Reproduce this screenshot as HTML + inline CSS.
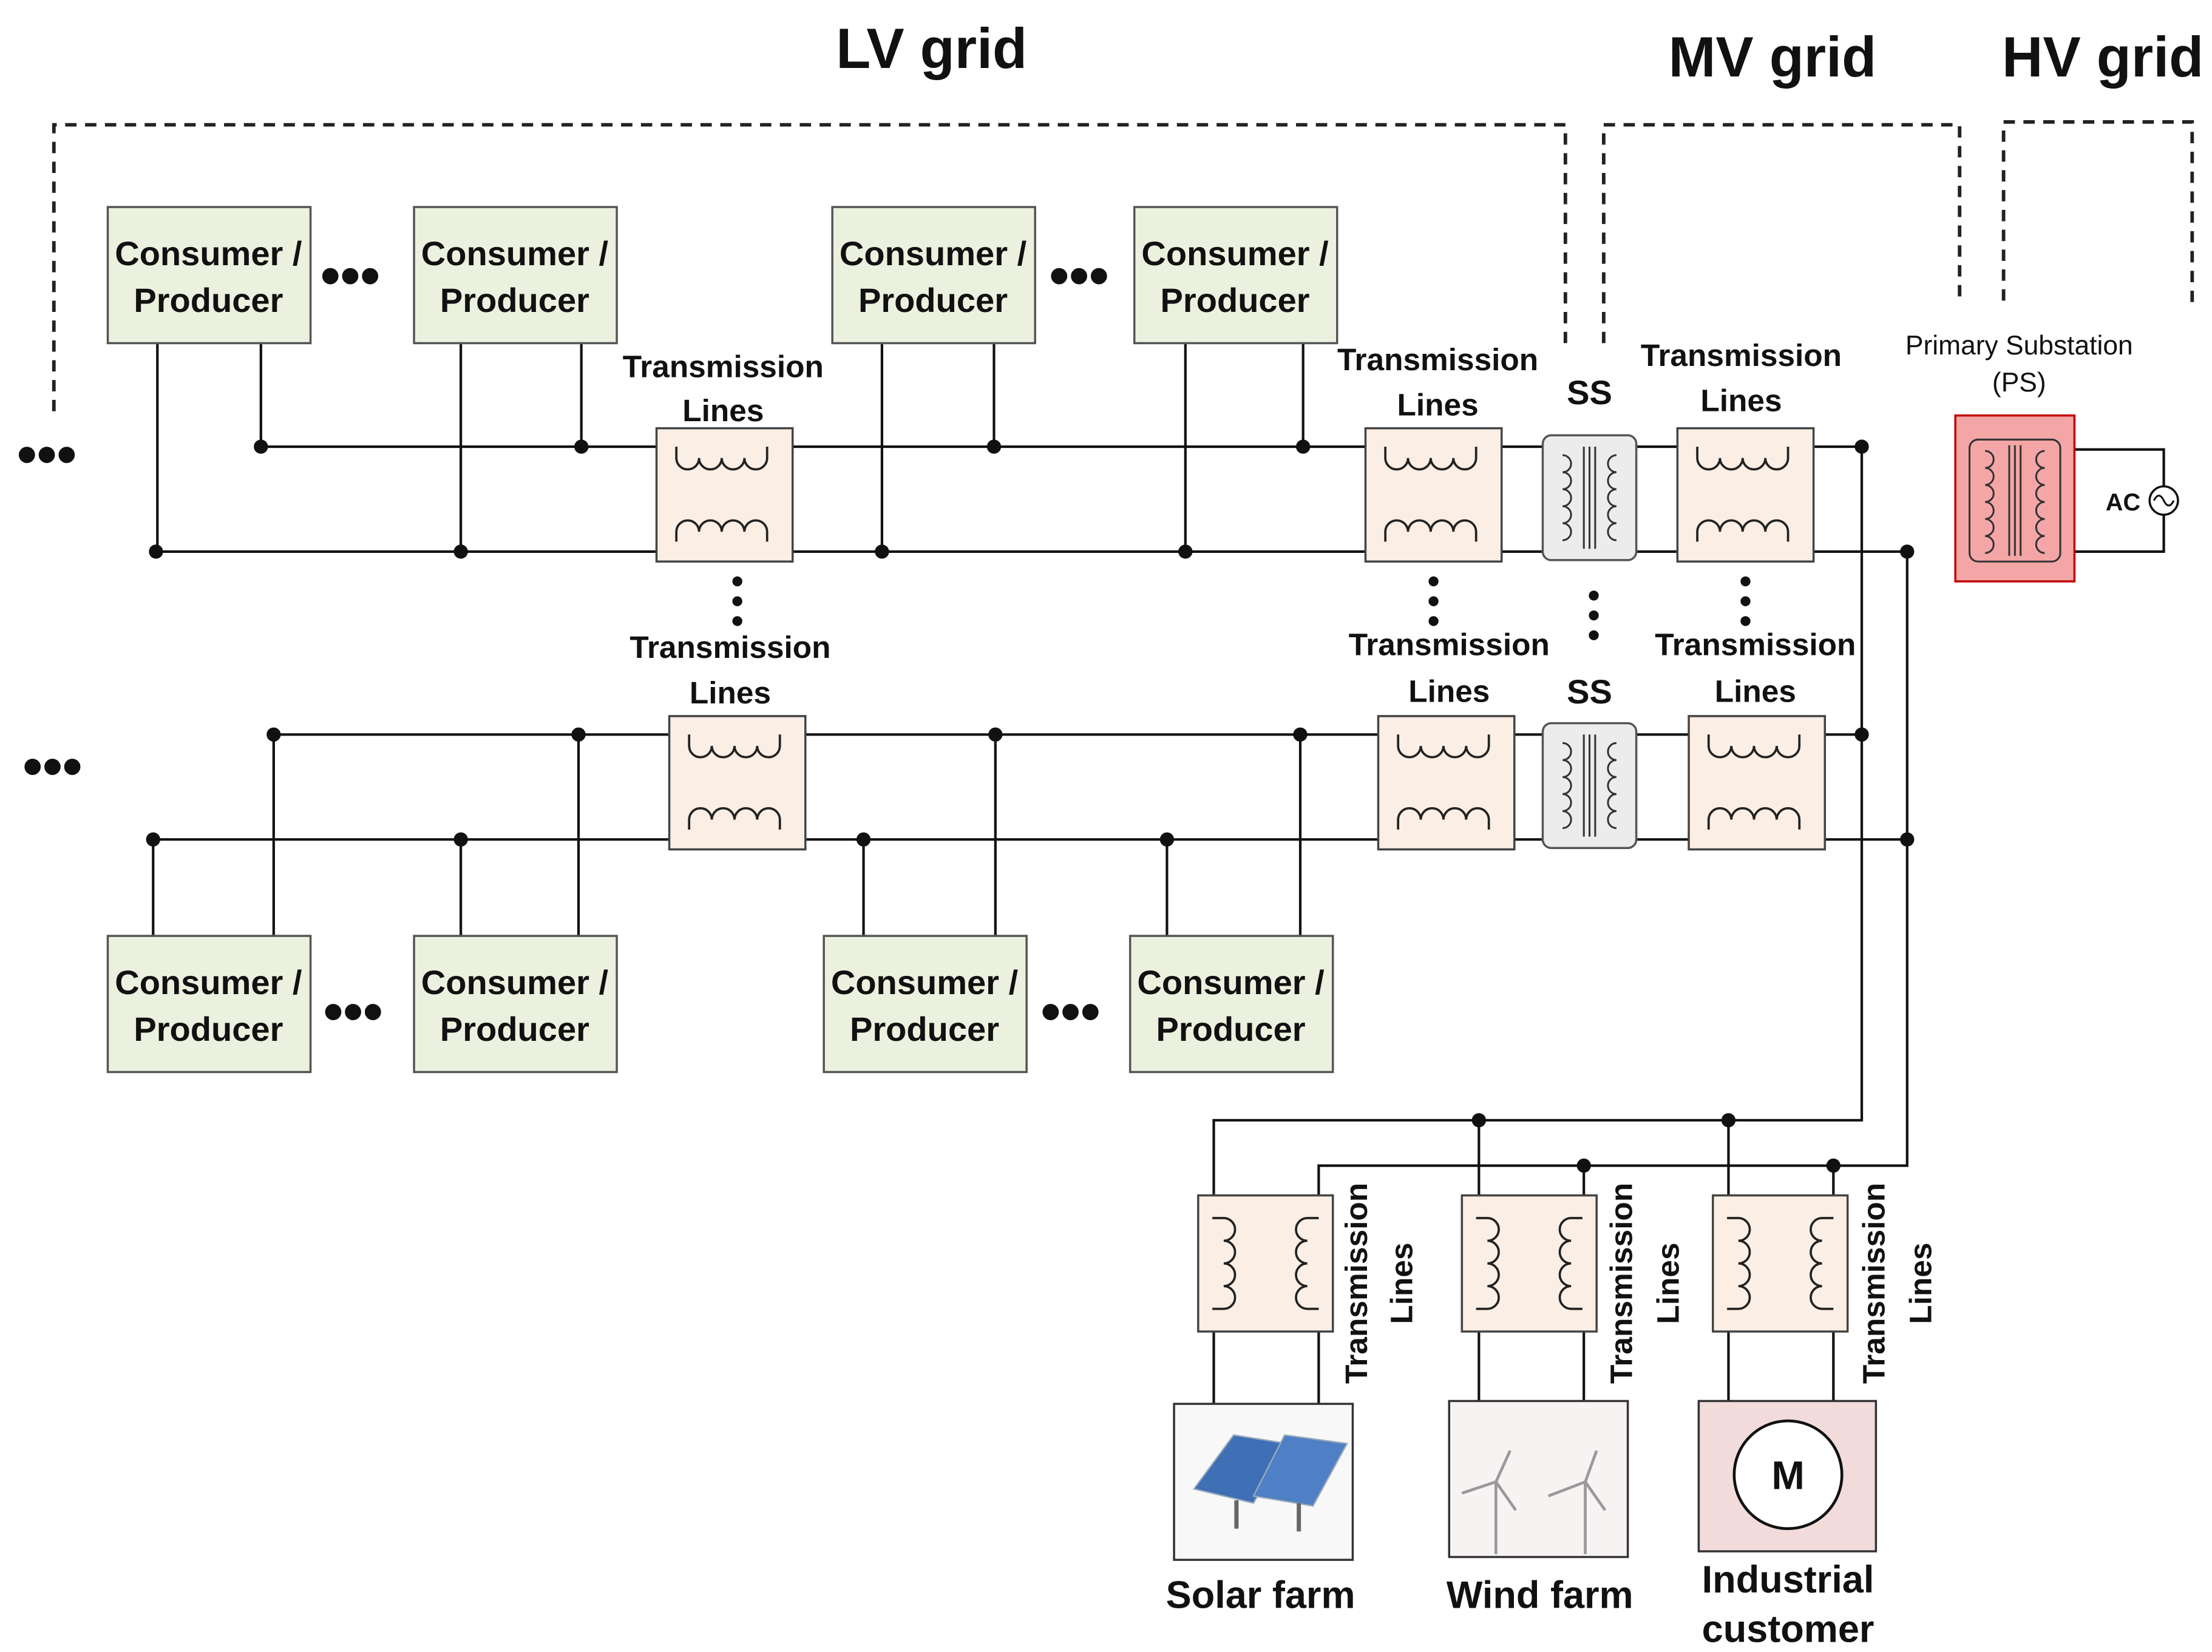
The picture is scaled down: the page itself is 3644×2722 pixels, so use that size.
<!DOCTYPE html>
<html><head><meta charset="utf-8"><style>
html,body{margin:0;padding:0;background:#fff;}
svg{display:block;}
text{font-family:"Liberation Sans",sans-serif;fill:#111;}
</style></head><body>
<svg width="3644" height="2722" viewBox="0 0 1560 1165" preserveAspectRatio="none" xmlns="http://www.w3.org/2000/svg">
<defs>
<g id="xh">
 <rect x="0" y="0" width="96" height="94" fill="#fbeee4" stroke="#444" stroke-width="1.5"/>
 <path d="M14 13 v8 M14 21 a8 8 0 0 0 16 0 a8 8 0 0 0 16 0 a8 8 0 0 0 16 0 a8 8 0 0 0 16 0 M78 21 v-8" fill="none" stroke="#222" stroke-width="1.6"/>
 <path d="M14 80 v-7 M14 73 a8 8 0 0 1 16 0 a8 8 0 0 1 16 0 a8 8 0 0 1 16 0 a8 8 0 0 1 16 0 M78 73 v7" fill="none" stroke="#222" stroke-width="1.6"/>
</g>
<g id="xv">
 <rect x="0" y="0" width="95" height="96" fill="#fbeee4" stroke="#444" stroke-width="1.5"/>
 <path d="M10 16 h8 M18 16 a8 8 0 0 1 0 16 a8 8 0 0 1 0 16 a8 8 0 0 1 0 16 a8 8 0 0 1 0 16 M18 80 h-8" fill="none" stroke="#222" stroke-width="1.6"/>
 <path d="M85 16 h-8 M77 16 a8 8 0 0 0 0 16 a8 8 0 0 0 0 16 a8 8 0 0 0 0 16 a8 8 0 0 0 0 16 M77 80 h8" fill="none" stroke="#222" stroke-width="1.6"/>
</g>
<g id="ss">
 <rect x="0" y="0" width="66" height="88" rx="6" fill="#ececec" stroke="#555" stroke-width="1.5"/>
 <path d="M14 14 a6 6 0 0 1 0 12 a6 6 0 0 1 0 12 a6 6 0 0 1 0 12 a6 6 0 0 1 0 12 a6 6 0 0 1 0 12" fill="none" stroke="#333" stroke-width="1.3"/>
 <path d="M52 14 a6 6 0 0 0 0 12 a6 6 0 0 0 0 12 a6 6 0 0 0 0 12 a6 6 0 0 0 0 12 a6 6 0 0 0 0 12" fill="none" stroke="#333" stroke-width="1.3"/>
 <path d="M29 8 v72 M33 8 v72 M37 8 v72" stroke="#333" stroke-width="1.3"/>
</g>
<g id="cp">
 <rect x="0" y="0" width="143" height="96" fill="#ebf1de" stroke="#555" stroke-width="1.5"/>
 <text x="71" y="41" font-size="24" text-anchor="middle" font-weight="bold">Consumer /</text>
 <text x="71" y="74" font-size="24" text-anchor="middle" font-weight="bold">Producer</text>
</g>
</defs>
<rect width="1560" height="1165" fill="#fff"/>
<!-- titles -->
<text x="657" y="48" font-size="40" font-weight="bold" text-anchor="middle">LV grid</text>
<text x="1250" y="54" font-size="40" font-weight="bold" text-anchor="middle">MV grid</text>
<text x="1483" y="54" font-size="40" font-weight="bold" text-anchor="middle">HV grid</text>
<!-- dashed -->
<g fill="none" stroke="#222" stroke-width="2.5" stroke-dasharray="8 6">
<path d="M38 290 V88 H1104 V242"/>
<path d="M1131 242 V88 H1382 V212"/>
<path d="M1413 212 V86 H1546 V214"/>
</g>
<!-- wires -->
<g fill="none" stroke="#111" stroke-width="1.8">
<path d="M184 315 H1313 M110 389 H1345"/>
<path d="M193 518 H1313 M108 592 H1345"/>
<path d="M111 242 V389 M184 242 V315 M325 242 V389 M410 242 V315 M622 242 V389 M701 242 V315 M836 242 V389 M919 242 V315"/>
<path d="M108 592 V660 M193 518 V660 M325 592 V660 M408 518 V660 M609 592 V660 M702 518 V660 M823 592 V660 M917 518 V660"/>
<path d="M1313 315 V790 H856 V843 M1345 389 V822 H930 V843"/>
<path d="M1043 790 V843 M1219 790 V843 M1117 822 V843 M1293 822 V843"/>
<path d="M856 939 V990 M930 939 V990 M1043 939 V988 M1117 939 V988 M1219 939 V988 M1293 939 V988"/>
<path d="M1463 317 H1526 V389 H1463"/>
</g>
<!-- junction dots -->
<g fill="#111">
<circle cx="184" cy="315" r="5"/><circle cx="410" cy="315" r="5"/><circle cx="701" cy="315" r="5"/><circle cx="919" cy="315" r="5"/><circle cx="1313" cy="315" r="5"/>
<circle cx="110" cy="389" r="5"/><circle cx="325" cy="389" r="5"/><circle cx="622" cy="389" r="5"/><circle cx="836" cy="389" r="5"/><circle cx="1345" cy="389" r="5"/>
<circle cx="193" cy="518" r="5"/><circle cx="408" cy="518" r="5"/><circle cx="702" cy="518" r="5"/><circle cx="917" cy="518" r="5"/><circle cx="1313" cy="518" r="5"/>
<circle cx="108" cy="592" r="5"/><circle cx="325" cy="592" r="5"/><circle cx="609" cy="592" r="5"/><circle cx="823" cy="592" r="5"/><circle cx="1345" cy="592" r="5"/>
<circle cx="1043" cy="790" r="5"/><circle cx="1219" cy="790" r="5"/><circle cx="1117" cy="822" r="5"/><circle cx="1293" cy="822" r="5"/>
</g>
<!-- boxes -->
<use href="#cp" x="76" y="146"/><use href="#cp" x="292" y="146"/><use href="#cp" x="587" y="146"/><use href="#cp" x="800" y="146"/>
<use href="#cp" x="76" y="660"/><use href="#cp" x="292" y="660"/><use href="#cp" x="581" y="660"/><use href="#cp" x="797" y="660"/>
<g font-size="40" font-weight="bold">
<text x="226" y="208">•••</text><text x="740" y="208">•••</text>
<text x="12" y="334">•••</text><text x="16" y="554">•••</text>
<text x="228" y="727">•••</text><text x="734" y="727">•••</text>
</g>
<!-- transformers -->
<use href="#xh" x="463" y="302"/><use href="#xh" x="963" y="302"/><use href="#xh" x="1183" y="302"/>
<use href="#xh" x="472" y="505"/><use href="#xh" x="972" y="505"/><use href="#xh" x="1191" y="505"/>
<use href="#ss" x="1088" y="307"/><use href="#ss" x="1088" y="510"/>
<use href="#xv" x="845" y="843"/><use href="#xv" x="1031" y="843"/><use href="#xv" x="1208" y="843"/>
<!-- vertical dots -->
<g fill="#111">
<circle cx="520" cy="410" r="3.5"/><circle cx="520" cy="424" r="3.5"/><circle cx="520" cy="438" r="3.5"/>
<circle cx="1011" cy="410" r="3.5"/><circle cx="1011" cy="424" r="3.5"/><circle cx="1011" cy="438" r="3.5"/>
<circle cx="1124" cy="420" r="3.5"/><circle cx="1124" cy="434" r="3.5"/><circle cx="1124" cy="448" r="3.5"/>
<circle cx="1231" cy="410" r="3.5"/><circle cx="1231" cy="424" r="3.5"/><circle cx="1231" cy="438" r="3.5"/>
</g>
<!-- PS -->
<rect x="1379" y="293" width="84" height="117" fill="#f4a6a6" stroke="#c00000" stroke-width="1.5"/>
<rect x="1389" y="310" width="64" height="86" rx="6" fill="none" stroke="#333" stroke-width="1.3"/>
<path d="M1400 318 a6 6 0 0 1 0 12 a6 6 0 0 1 0 12 a6 6 0 0 1 0 12 a6 6 0 0 1 0 12 a6 6 0 0 1 0 12 a6 6 0 0 1 0 12 M1442 318 a6 6 0 0 0 0 12 a6 6 0 0 0 0 12 a6 6 0 0 0 0 12 a6 6 0 0 0 0 12 a6 6 0 0 0 0 12 a6 6 0 0 0 0 12 M1417 314 v78 M1421 314 v78 M1425 314 v78" fill="none" stroke="#333" stroke-width="1.3"/>
<circle cx="1526" cy="353" r="10" fill="#fff" stroke="#111" stroke-width="1.5"/>
<path d="M1519 353 q3.5 -7 7 0 q3.5 7 7 0" fill="none" stroke="#111" stroke-width="1.3"/>
<text x="1485" y="360" font-size="17" font-weight="bold">AC</text>
<!-- labels -->
<g font-size="22" font-weight="bold" text-anchor="middle">
<text x="510" y="266">Transmission</text><text x="510" y="297">Lines</text>
<text x="1014" y="261">Transmission</text><text x="1014" y="293">Lines</text>
<text x="1228" y="258">Transmission</text><text x="1228" y="290">Lines</text>
<text x="515" y="464">Transmission</text><text x="515" y="496">Lines</text>
<text x="1022" y="462">Transmission</text><text x="1022" y="495">Lines</text>
<text x="1238" y="462">Transmission</text><text x="1238" y="495">Lines</text>
<text x="1121" y="285" font-size="24">SS</text><text x="1121" y="496" font-size="24">SS</text>
</g>
<g font-size="19" text-anchor="middle">
<text x="1424" y="250">Primary Substation</text><text x="1424" y="276">(PS)</text>
</g>
<g font-size="22" font-weight="bold" text-anchor="middle">
<text transform="translate(964,905) rotate(-90)">Transmission</text>
<text transform="translate(996,905) rotate(-90)">Lines</text>
<text transform="translate(1151,905) rotate(-90)">Transmission</text>
<text transform="translate(1184,905) rotate(-90)">Lines</text>
<text transform="translate(1329,905) rotate(-90)">Transmission</text>
<text transform="translate(1362,905) rotate(-90)">Lines</text>
</g>
<!-- sources -->
<rect x="828" y="990" width="126" height="110" fill="#f8f8f8" stroke="#333" stroke-width="1.5"/>
<g>
<polygon points="842,1050 870,1012 908,1018 884,1060" fill="#3f6fb5" stroke="#9ab" stroke-width="1"/>
<polygon points="884,1055 906,1012 950,1018 926,1062" fill="#4f7fc5" stroke="#9ab" stroke-width="1"/>
<path d="M872 1058 V1078 M916 1060 V1080" stroke="#666" stroke-width="3"/>
</g>
<rect x="1022" y="988" width="126" height="110" fill="#f7f3f3" stroke="#333" stroke-width="1.5"/>
<g stroke="#999" stroke-width="2" fill="none">
<path d="M1055 1045 V1096 M1055 1045 l-24 8 M1055 1045 l10 -22 M1055 1045 l14 20"/>
<path d="M1118 1045 V1096 M1118 1045 l-26 10 M1118 1045 l8 -22 M1118 1045 l14 20"/>
</g>
<rect x="1198" y="988" width="125" height="106" fill="#f2dcdb" stroke="#333" stroke-width="1.5"/>
<circle cx="1261" cy="1040" r="38" fill="#fff" stroke="#111" stroke-width="2"/>
<text x="1261" y="1050" font-size="28" font-weight="bold" text-anchor="middle">M</text>
<g font-size="27" font-weight="bold" text-anchor="middle">
<text x="889" y="1134">Solar farm</text>
<text x="1086" y="1134">Wind farm</text>
<text x="1261" y="1123">Industrial</text>
<text x="1261" y="1158">customer</text>
</g>
</svg>
</body></html>
